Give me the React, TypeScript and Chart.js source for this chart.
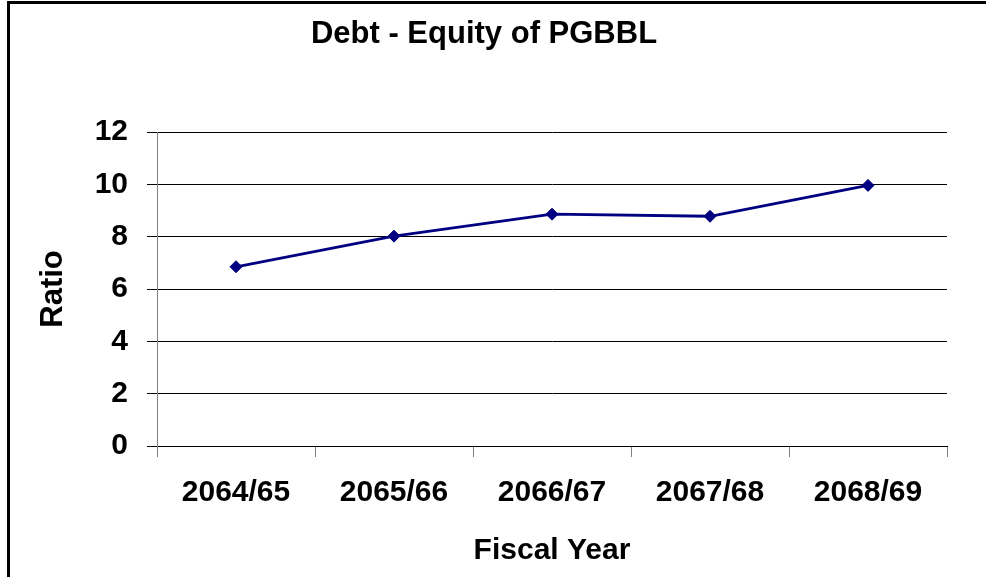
import React, { useEffect, useRef } from "react";
import { Chart, registerables } from "chart.js";

Chart.register(...registerables);

const categories = ["2064/65", "2065/66", "2066/67", "2067/68", "2068/69"];
const ratioValues = [6.85, 8.02, 8.86, 8.78, 9.96];
const yTicks = [0, 2, 4, 6, 8, 10, 12];
const chartTitle = "Debt - Equity of PGBBL";
const xTitle = "Fiscal Year";
const yTitle = "Ratio";

const FONT = "'Liberation Sans', Arial, Helvetica, sans-serif";

export default function App() {
  const ref = useRef<HTMLCanvasElement | null>(null);

  useEffect(() => {
    if (!ref.current) return;
    const chart = new Chart(ref.current, {
      type: "line",
      data: {
        labels: categories,
        datasets: [
          {
            label: yTitle,
            data: ratioValues,
            borderColor: "#000080",
            backgroundColor: "#000080",
            borderWidth: 2.8,
            pointStyle: "rectRot",
            pointRadius: 6,
            pointBorderWidth: 1,
            pointBackgroundColor: "#000080",
            pointBorderColor: "#000080",
            tension: 0,
          },
        ],
      },
      options: {
        responsive: false,
        animation: false,
        devicePixelRatio: 1,
        layout: { padding: { left: 21, right: 39, top: 0, bottom: 0 } },
        plugins: {
          legend: { display: false },
          tooltip: { enabled: false },
          title: {
            display: true,
            text: chartTitle,
            color: "#000",
            font: { family: FONT, size: 31, weight: "bold", lineHeight: 1.2 },
            padding: { top: 15.5, bottom: 79.3 },
          },
        },
        scales: {
          x: {
            type: "category",
            offset: true,
            afterFit: (s: any) => {
              s.height = 131;
            },
            grid: {
              offset: true,
              drawOnChartArea: false,
              drawTicks: true,
              tickLength: 11,
              tickColor: "#808080",
            },
            border: { display: true, color: "#000", width: 1 },
            ticks: {
              color: "#000",
              padding: 17.7,
              maxRotation: 0,
              autoSkip: false,
              font: { family: FONT, size: 30, weight: "bold", lineHeight: 1.2 },
            },
            title: {
              display: true,
              text: xTitle,
              color: "#000",
              font: { family: FONT, size: 30, weight: "bold", lineHeight: 1.2 },
              padding: { top: 0, bottom: 8.3 },
            },
          },
          y: {
            min: 0,
            max: 12,
            afterFit: (s: any) => {
              s.width = 136;
            },
            afterBuildTicks: (s: any) => {
              s.ticks = yTicks.map((v) => ({ value: v }));
            },
            grid: {
              color: "#000",
              tickColor: "#000",
              tickLength: 10,
              lineWidth: 1,
            },
            border: { display: true, color: "#808080", width: 1 },
            ticks: {
              color: "#000",
              padding: 19,
              font: { family: FONT, size: 30, weight: "bold", lineHeight: 1.2 },
            },
            title: {
              display: true,
              text: yTitle,
              color: "#000",
              font: { family: FONT, size: 31, weight: "bold", lineHeight: 1.2 },
              padding: { top: 13.8, bottom: 0 },
            },
          },
        },
      },
    });
    return () => chart.destroy();
  }, []);

  return (
    <div
      style={{
        position: "absolute",
        left: 0,
        top: 0,
        width: 986,
        height: 577,
        overflow: "hidden",
        background: "#fff",
      }}
    >
      <canvas
        ref={ref}
        width={986}
        height={577}
        style={{ position: "absolute", left: 0, top: 0, width: 986, height: 577 }}
      />
      <div
        style={{
          position: "absolute",
          left: 7,
          top: 1,
          width: 1000,
          height: 600,
          borderLeft: "3px solid #000",
          borderTop: "3px solid #000",
          pointerEvents: "none",
        }}
      />
    </div>
  );
}
